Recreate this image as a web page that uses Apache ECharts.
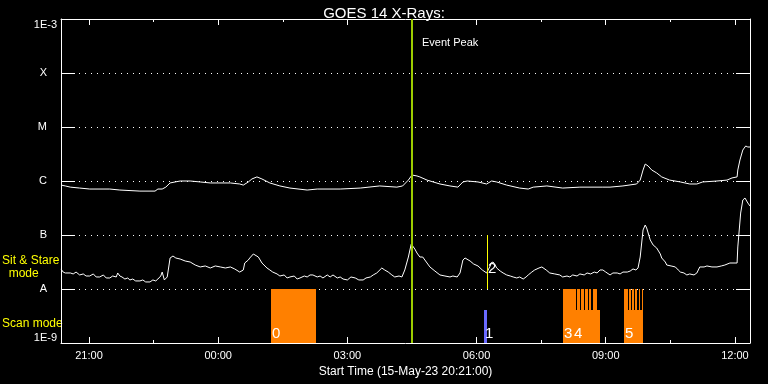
<!DOCTYPE html>
<html><head><meta charset="utf-8">
<script src="https://cdn.jsdelivr.net/npm/echarts@6/dist/echarts.min.js"></script>
<style>html,body{margin:0;padding:0;background:#000}#c{width:768px;height:384px}</style>
</head><body><div id="c"></div>
<script>
// ---------- data ----------
const START = '20:21';
const majorTicks = ['21:00','00:00','03:00','06:00','09:00','12:00'];
const minorTicks = ['22:30','01:30','04:30','07:30','10:30'];
const classLabels = {'-3':'1E-3','-4':'X','-5':'M','-6':'C','-7':'B','-8':'A','-9':'1E-9'};

// GOES long channel (1-8 A)
const longTimes = ['20:21','20:27','20:34','20:47','21:01','21:29','21:43','22:11','22:32','22:36','22:42','22:47','22:53','23:00','23:07','23:21','23:35','23:49','00:17','00:30','00:35','00:42','00:47','00:54','01:01','01:12','01:26','01:40','02:04','02:18','02:50','03:18','03:45','04:09','04:17','04:25','04:30','04:37','04:41','04:51','05:09','05:23','05:34','05:41','05:47','06:02','06:14','06:21','06:28','06:42','07:00','07:12','07:19','07:38','08:00','08:24','08:56','09:06','09:24','09:43','09:48','09:52','09:55','09:59','10:04','10:11','10:18','10:29','10:44','10:57','11:07','11:15','11:35','11:49','11:56','12:03','12:04','12:07','12:11','12:15','12:18','12:21'];
const longFlux = [8.4e-7,8.1e-7,7.7e-7,7.4e-7,7.1e-7,7.1e-7,6.8e-7,6.5e-7,6.5e-7,7.1e-7,7.1e-7,7.7e-7,9.2e-7,9.6e-7,1.0e-6,1.0e-6,9.6e-7,9.2e-7,9.2e-7,8.8e-7,8.4e-7,9.6e-7,1.09e-6,1.19e-6,1.09e-6,9.2e-7,8.1e-7,7.4e-7,6.8e-7,7.1e-7,7.1e-7,7.4e-7,8.1e-7,7.7e-7,8.1e-7,1.04e-6,1.29e-6,1.24e-6,1.19e-6,1.04e-6,8.8e-7,8.1e-7,7.7e-7,9.6e-7,1.0e-6,9.6e-7,8.8e-7,1.0e-6,9.6e-7,8.4e-7,7.4e-7,7.1e-7,7.7e-7,8.1e-7,7.4e-7,7.7e-7,7.7e-7,7.7e-7,8.1e-7,8.8e-7,1.04e-6,1.6e-6,2.06e-6,1.9e-6,1.6e-6,1.41e-6,1.19e-6,1.04e-6,9.6e-7,8.8e-7,8.8e-7,9.6e-7,1.0e-6,1.04e-6,1.14e-6,1.19e-6,1.6e-6,2.45e-6,3.75e-6,4.45e-6,4.26e-6,4.26e-6];

// GOES short channel (0.5-4 A)
const shortTimes = ['20:21','20:24','20:27','20:29','20:34','20:38','20:42','20:47','20:52','20:56','21:01','21:06','21:10','21:15','21:20','21:24','21:29','21:33','21:38','21:40','21:43','21:46','21:50','21:54','21:57','22:01','22:05','22:11','22:15','22:19','22:25','22:29','22:33','22:36','22:40','22:42','22:45','22:49','22:53','22:57','23:01','23:07','23:14','23:21','23:28','23:35','23:42','23:49','23:56','00:03','00:10','00:17','00:23','00:30','00:35','00:37','00:42','00:44','00:49','00:51','00:56','01:01','01:08','01:12','01:16','01:22','01:26','01:32','01:36','01:40','01:46','01:50','01:54','02:00','02:04','02:08','02:12','02:18','02:22','02:26','02:32','02:36','02:40','02:46','02:50','02:54','03:00','03:05','03:11','03:16','03:22','03:26','03:32','03:36','03:41','03:48','03:52','03:57','04:02','04:06','04:12','04:16','04:20','04:25','04:29','04:31','04:34','04:37','04:41','04:45','04:51','04:55','05:02','05:09','05:16','05:23','05:27','05:33','05:37','05:41','05:44','05:51','05:56','06:02','06:08','06:14','06:19','06:20','06:23','06:26','06:28','06:33','06:37','06:42','06:47','06:51','06:56','07:00','07:05','07:09','07:12','07:17','07:21','07:27','07:31','07:37','07:42','07:49','07:56','08:00','08:06','08:10','08:14','08:20','08:24','08:30','08:34','08:39','08:44','08:48','08:52','08:56','09:00','09:06','09:10','09:16','09:20','09:24','09:30','09:34','09:38','09:42','09:45','09:48','09:52','09:55','09:57','10:02','10:06','10:11','10:16','10:18','10:23','10:25','10:31','10:37','10:41','10:44','10:49','10:53','10:57','11:03','11:07','11:11','11:17','11:21','11:28','11:35','11:41','11:46','11:53','12:03','12:04','12:08','12:11','12:14','12:18','12:21'];
const shortFlux = [2.35e-8,2.06e-8,1.98e-8,2.15e-8,1.98e-8,1.9e-8,2.06e-8,1.82e-8,1.9e-8,1.74e-8,1.74e-8,1.9e-8,1.67e-8,1.67e-8,1.82e-8,1.6e-8,1.6e-8,1.74e-8,1.67e-8,1.98e-8,1.74e-8,1.67e-8,1.53e-8,1.6e-8,1.47e-8,1.53e-8,1.41e-8,1.41e-8,1.47e-8,1.35e-8,1.35e-8,1.47e-8,1.41e-8,1.53e-8,1.74e-8,2.06e-8,1.47e-8,1.67e-8,3.75e-8,4.08e-8,3.75e-8,3.59e-8,3.3e-8,3.16e-8,2.78e-8,2.56e-8,2.67e-8,2.45e-8,2.67e-8,2.56e-8,2.45e-8,2.56e-8,2.35e-8,2.06e-8,2.25e-8,3.03e-8,3.44e-8,3.75e-8,4.45e-8,4.26e-8,3.91e-8,3.03e-8,2.45e-8,2.25e-8,2.06e-8,1.9e-8,1.74e-8,1.82e-8,1.6e-8,1.67e-8,1.74e-8,1.53e-8,1.6e-8,1.74e-8,1.67e-8,1.82e-8,1.82e-8,1.67e-8,1.74e-8,1.6e-8,1.82e-8,1.67e-8,1.82e-8,1.6e-8,1.67e-8,1.53e-8,1.47e-8,1.67e-8,1.6e-8,1.47e-8,1.47e-8,1.6e-8,1.67e-8,1.82e-8,1.98e-8,2.45e-8,2.25e-8,2.06e-8,1.82e-8,1.67e-8,1.74e-8,1.67e-8,2.25e-8,3.91e-8,6.81e-8,6.26e-8,5.5e-8,4.64e-8,3.91e-8,3.91e-8,3.03e-8,2.56e-8,2.15e-8,1.82e-8,1.74e-8,1.67e-8,1.74e-8,1.67e-8,1.98e-8,3.44e-8,3.75e-8,3.3e-8,2.9e-8,2.67e-8,2.25e-8,1.98e-8,2.67e-8,3.03e-8,3.16e-8,2.78e-8,2.45e-8,2.15e-8,1.98e-8,1.82e-8,1.74e-8,1.67e-8,1.6e-8,1.67e-8,1.53e-8,1.67e-8,1.82e-8,2.06e-8,2.25e-8,2.45e-8,2.56e-8,2.25e-8,1.98e-8,1.9e-8,1.82e-8,1.67e-8,1.74e-8,1.67e-8,1.82e-8,1.74e-8,1.9e-8,1.82e-8,1.98e-8,1.9e-8,2.06e-8,1.98e-8,2.25e-8,2.25e-8,2.06e-8,1.82e-8,1.98e-8,1.98e-8,1.9e-8,2.06e-8,2.06e-8,2.15e-8,2.35e-8,2.25e-8,2.45e-8,3.91e-8,1.24e-7,1.53e-7,1.35e-7,8.08e-8,6.53e-8,5.74e-8,4.45e-8,3.75e-8,3.16e-8,2.78e-8,2.67e-8,2.56e-8,2.25e-8,2.06e-8,1.98e-8,1.82e-8,1.9e-8,1.82e-8,1.98e-8,2.56e-8,2.56e-8,2.67e-8,2.56e-8,2.56e-8,2.67e-8,2.78e-8,3.03e-8,3.03e-8,6.0e-8,2.55e-7,4.45e-7,4.84e-7,3.91e-7,3.44e-7];

// Observing scans (start, end, top flux level, colour, label)
const scanStart = ['01:14','06:11','08:00','08:14','09:26'];
const scanEnd   = ['02:16','06:15','08:14','08:52','09:52'];
const scanTop   = [1e-8, 4.1e-9, 1e-8, 4.1e-9, 4.1e-9];
const scanColor = ['#ff8000','#6a6aff','#ff8000','#ff8000','#ff8000'];
const scanLabel = ['0','1','3','4','5'];
// short repeated sit&stare sub-scans drawn to full height
const subStart = ['08:15','08:20','08:26','08:31','08:37','08:42','09:26','09:32','09:37','09:41','09:46','09:50'];
const subEnd   = ['08:19','08:24','08:30','08:35','08:40','08:48','09:31','09:35','09:40','09:44','09:48','09:52'];

// Event markers
const eventTimes  = ['04:30','06:15'];
const eventTop    = [1e-3, 1e-7];
const eventBottom = [1e-9, 1e-8];
const eventColor  = ['#9ccc00','#ffff00'];
const eventWidth  = [2, 1];
const eventLabel  = ['Event Peak','2'];

// ---------- helpers ----------
function toMin(t){const a=t.split(':').map(Number);const s=START.split(':').map(Number);let v=a[0]*60+a[1]-(s[0]*60+s[1]);if(v<0)v+=1440;return v;}
function fmtMin(m){const s=START.split(':').map(Number);let t=(s[0]*60+s[1]+Math.round(m))%1440;const h=Math.floor(t/60),mm=t%60;return String(h).padStart(2,'0')+':'+String(mm).padStart(2,'0');}
function expOf(v){return Math.round(Math.log10(v));}
const FONT='Liberation Sans';
const W='#ffffff';

const xBase={type:'value',min:0,max:960,splitLine:{show:false},axisLine:{show:false,lineStyle:{color:W,width:1}},axisLabel:{show:false},axisTick:{show:true,inside:true,lineStyle:{color:W,width:1}}};
const yBase={type:'log',logBase:10,min:1e-9,max:1e-3,interval:1,splitNumber:6,splitLine:{show:false},axisLine:{show:false,lineStyle:{color:W,width:1}},axisLabel:{show:false},axisTick:{show:false}};
function merge(a,b){return JSON.parse(JSON.stringify(Object.assign({},a,b)));}

const chart=echarts.init(document.getElementById('c'),null,{renderer:'canvas'});
const option={
  backgroundColor:'#000000',
  animation:false,
  title:{text:'GOES 14 X-Rays:',left:'center',top:1,textStyle:{color:W,fontFamily:FONT,fontSize:15,fontWeight:'normal'}},
  grid:{left:61,right:18,top:19,bottom:41,containLabel:false},
  xAxis:[
    Object.assign(merge(xBase,{position:'bottom',axisLine:{show:true,lineStyle:{color:W,width:1}},name:'Start Time (15-May-23 20:21:00)',nameLocation:'middle',nameGap:18,nameTextStyle:{color:W,fontFamily:FONT,fontSize:12,verticalAlign:'top'}}),{
      axisTick:{show:true,inside:true,length:6,lineStyle:{color:W},customValues:majorTicks.map(toMin)},
      axisLabel:{show:true,color:W,fontFamily:FONT,fontSize:11,margin:7,customValues:majorTicks.map(toMin),formatter:v=>fmtMin(v)}}),
    Object.assign(merge(xBase,{position:'bottom'}),{axisTick:{show:true,inside:true,length:3,lineStyle:{color:W},customValues:minorTicks.map(toMin)}}),
    Object.assign(merge(xBase,{position:'top',axisLine:{show:true,lineStyle:{color:W,width:1}}}),{axisTick:{show:true,inside:true,length:6,lineStyle:{color:W},customValues:majorTicks.map(toMin)}}),
    Object.assign(merge(xBase,{position:'top'}),{axisTick:{show:true,inside:true,length:3,lineStyle:{color:W},customValues:minorTicks.map(toMin)}})
  ],
  yAxis:[
    merge(yBase,{position:'left',axisLine:{show:true,lineStyle:{color:W,width:1}},axisTick:{show:true,inside:true,length:14,lineStyle:{color:W}},splitLine:{show:true,lineStyle:{color:W,width:1,type:[1,5]}}}),
    Object.assign(merge(yBase,{position:'left'}),{
      axisLabel:{show:true,margin:14,color:W,fontFamily:FONT,fontSize:11,
        formatter:v=>{const e=expOf(v);return (e>-9&&e<-3)?classLabels[e]:'';}}}),
    Object.assign(merge(yBase,{position:'left'}),{
      axisLabel:{show:true,margin:4,color:W,fontFamily:FONT,fontSize:11,verticalAlign:'top',showMaxLabel:true,
        formatter:v=>expOf(v)===-3?classLabels[-3]:''}}),
    Object.assign(merge(yBase,{position:'left'}),{
      axisLabel:{show:true,margin:4,color:W,fontFamily:FONT,fontSize:11,verticalAlign:'bottom',showMinLabel:true,
        formatter:v=>expOf(v)===-9?classLabels[-9]:''}}),
    merge(yBase,{position:'right',axisLine:{show:true,lineStyle:{color:W,width:1}},axisTick:{show:true,inside:true,length:14,lineStyle:{color:W}}})
  ],
  graphic:[
    {type:'text',left:2,top:254,style:{text:'Sit & Stare\n  mode',fill:'#ffff00',font:'12px '+FONT,lineHeight:13}},
    {type:'text',left:2,top:318,style:{text:'Scan mode',fill:'#ffff00',font:'12px '+FONT}}
  ],
  series:[
    {type:'custom',name:'scans',xAxisIndex:0,yAxisIndex:0,clip:true,z:1,
      data:scanStart.map((s,i)=>[toMin(s),toMin(scanEnd[i]),scanTop[i],i]).concat(subStart.map((s,i)=>[toMin(s),toMin(subEnd[i]),1e-8,-1])),
      encode:{x:[0,1],y:2},
      renderItem:(params,api)=>{
        const i=api.value(3);
        const p1=api.coord([api.value(0),api.value(2)]);
        const p2=api.coord([api.value(1),1e-9]);
        const x0=Math.round(p1[0]),x1=Math.round(p2[0]),y0=Math.round(p1[1]),y1=Math.round(p2[1]);
        const col=i>=0?scanColor[i]:'#ff8000';
        return {type:'rect',shape:{x:x0,y:y0,width:Math.max(1,x1-x0),height:y1-y0},style:{fill:col}};
      }},
    {type:'custom',name:'scanLabels',xAxisIndex:0,yAxisIndex:0,z:5,
      data:scanStart.map((s,i)=>[toMin(s),1e-9,i]),
      encode:{x:0,y:1},
      renderItem:(params,api)=>{
        const i=api.value(2);
        const p=api.coord([api.value(0),api.value(1)]);
        return {type:'text',x:Math.round(p[0])+1,y:p[1]-2,style:{text:scanLabel[i],fill:W,font:'15px '+FONT,align:'left',verticalAlign:'bottom'}};
      }},
    {type:'line',name:'long',xAxisIndex:0,yAxisIndex:0,showSymbol:false,symbol:'none',z:3,
      lineStyle:{color:W,width:1},data:longTimes.map((t,i)=>[toMin(t),longFlux[i]])},
    {type:'line',name:'short',xAxisIndex:0,yAxisIndex:0,showSymbol:false,symbol:'none',z:3,
      lineStyle:{color:W,width:1},data:shortTimes.map((t,i)=>[toMin(t),shortFlux[i]])},
    {type:'custom',name:'events',xAxisIndex:0,yAxisIndex:0,z:4,
      data:eventTimes.map((t,i)=>[toMin(t),eventTop[i],eventBottom[i],i]),
      encode:{x:0,y:[1,2]},
      renderItem:(params,api)=>{
        const i=api.value(3);
        const pt=api.coord([api.value(0),api.value(1)]);
        const pb=api.coord([api.value(0),api.value(2)]);
        const w=eventWidth[i];
        const x=Math.round(pt[0]);
        const lx=w%2===1?x+0.5:x;
        const label=i===0?
          {type:'text',x:x+10,y:pt[1]+24,style:{text:eventLabel[i],fill:W,font:'11px '+FONT,align:'left',verticalAlign:'middle'}}:
          {type:'text',x:x+1,y:pb[1]-20,style:{text:eventLabel[i],fill:W,font:'15px '+FONT,align:'left',verticalAlign:'middle'}};
        return {type:'group',children:[
          {type:'line',shape:{x1:lx,y1:Math.round(pt[1]),x2:lx,y2:Math.round(pb[1])},style:{stroke:eventColor[i],lineWidth:w,fill:null}},
          label]};
      }}
  ]
};
chart.setOption(option);
</script>
</body></html>
